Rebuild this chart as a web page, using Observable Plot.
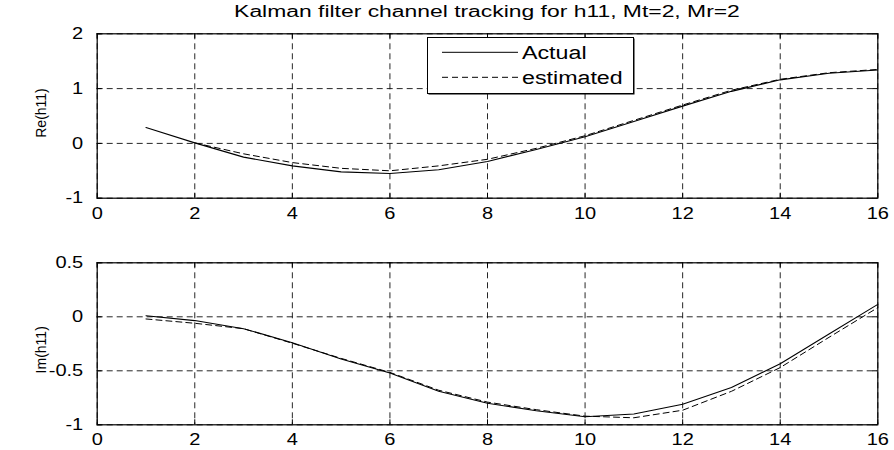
<!DOCTYPE html>
<html><head><meta charset="utf-8">
<script src="https://cdn.jsdelivr.net/npm/d3@7"></script>
<script src="https://cdn.jsdelivr.net/npm/@observablehq/plot@0.6"></script>
<style>
html,body{margin:0;padding:0;background:#fff;}
#wrap{position:relative;width:894px;height:450px;overflow:hidden;background:#fff;font-family:"Liberation Sans",Arial,sans-serif;}
#wrap > *{position:absolute;left:0;}
</style></head><body>
<div id="wrap">
  <div id="topPlot" style="top:0"></div>
  <div id="botPlot" style="top:220px"></div>
  <svg id="title" width="894" height="30" style="top:0"></svg>
  <svg id="legend" width="212" height="62" style="left:426px;top:36px"></svg>
</div>
<script>
const steps = [1,2,3,4,5,6,7,8,9,10,11,12,13,14,15,16];
const xTicks = [0,2,4,6,8,10,12,14,16];
const reTicks = [-1,0,1,2];
const imTicks = [-1,-0.5,0,0.5];
const reActual    = [0.29, 0.01, -0.25, -0.41, -0.52, -0.55, -0.48, -0.33, -0.11, 0.12, 0.40, 0.68, 0.95, 1.16, 1.28, 1.34];
const reEstimated = [null, 0.01, -0.19, -0.35, -0.455, -0.50, -0.41, -0.29, -0.09, 0.14, 0.42, 0.70, 0.97, 1.17, 1.29, 1.35];
const imActual    = [0.01, -0.035, -0.11, -0.24, -0.39, -0.52, -0.69, -0.80, -0.87, -0.925, -0.90, -0.81, -0.655, -0.435, -0.16, 0.115];
const imEstimated = [-0.02, -0.06, -0.11, -0.245, -0.385, -0.515, -0.68, -0.79, -0.86, -0.92, -0.935, -0.865, -0.69, -0.47, -0.19, 0.085];
const titleText = "Kalman filter channel tracking for h11, Mt=2, Mr=2";
const seriesNames = ["Actual", "estimated"];
const yLabels = ["Re(h11)", "Im(h11)"];

const W = 894, ML = 96.7, MR = 16.7;
const FONT = '"Liberation Sans", Arial, Helvetica, sans-serif';
const STRETCH = 1.25;

function panel({height, top, bottom, yDomain, yTicks, actual, estimated, yLabel, labelDy}) {
  const innerW = W - ML - MR;
  const innerH = height - top - bottom;
  const act = steps.map((x, i) => ({x, y: actual[i]}));
  const est = steps.map((x, i) => ({x, y: estimated[i]}));
  return Plot.plot({
    width: W, height,
    marginTop: top, marginBottom: bottom, marginLeft: ML, marginRight: MR,
    style: {fontFamily: FONT, fontSize: "16px", color: "#000", background: "#fff", overflow: "visible"},
    x: {domain: [0, 16]},
    y: {domain: yDomain},
    marks: [
      Plot.gridX(xTicks, {stroke: "#000", strokeOpacity: 0.85, strokeWidth: 1, strokeDasharray: "6,4"}),
      Plot.gridY(yTicks, {stroke: "#000", strokeOpacity: 0.85, strokeWidth: 1, strokeDasharray: "6,4"}),
      Plot.tickX(xTicks, {x: d => d, insetTop: innerH - 5, stroke: "#000"}),
      Plot.tickX(xTicks, {x: d => d, insetBottom: innerH - 5, stroke: "#000"}),
      Plot.tickY(yTicks, {y: d => d, insetRight: innerW - 5, stroke: "#000"}),
      Plot.tickY(yTicks, {y: d => d, insetLeft: innerW - 5, stroke: "#000"}),
      Plot.line(est, {x: "x", y: "y", stroke: "#000", strokeWidth: 1, strokeDasharray: "6,4"}),
      Plot.line(act, {x: "x", y: "y", stroke: "#000", strokeWidth: 1.1}),
      Plot.frame({stroke: "#000", strokeWidth: 1.2}),
      Plot.axisX(xTicks, {tickSize: 0, tickPadding: 9, fontSize: 16, label: null, tickFormat: d => String(d)}),
      Plot.axisY(yTicks, {tickSize: 0, tickPadding: 14, fontSize: 16, label: null, tickFormat: d => String(d)}),
      Plot.text([yLabel], {text: d => d, frameAnchor: "left", textAnchor: "middle", lineAnchor: "middle",
        dx: -56, dy: labelDy, rotate: -90, fontSize: 14, fill: "#000"})
    ]
  });
}

const topChart = panel({height: 220, top: 33.3, bottom: 22.3, yDomain: [-1, 2], yTicks: reTicks,
  actual: reActual, estimated: reEstimated, yLabel: yLabels[0], labelDy: -3});
const botChart = panel({height: 230, top: 42.3, bottom: 25.7, yDomain: [-1, 0.5], yTicks: imTicks,
  actual: imActual, estimated: imEstimated, yLabel: yLabels[1], labelDy: 6});
document.getElementById("topPlot").appendChild(topChart);
document.getElementById("botPlot").appendChild(botChart);

function stretchTexts(nodes, k) {
  nodes.forEach(t => {
    const L = t.getComputedTextLength();
    if (L > 0) {
      t.setAttribute("textLength", (L * k).toFixed(2));
      t.setAttribute("lengthAdjust", "spacingAndGlyphs");
    }
  });
}
[topChart, botChart].forEach(svg => {
  stretchTexts(svg.querySelectorAll('[aria-label="x-axis tick label"] text, [aria-label="y-axis tick label"] text'), STRETCH);
});

// title
const title = d3.select("#title");
title.append("text")
  .attr("x", 487).attr("y", 17)
  .attr("text-anchor", "middle")
  .attr("font-family", FONT).attr("font-size", 16).attr("fill", "#000")
  .text(titleText)
  .each(function() {
    const L = this.getComputedTextLength();
    this.setAttribute("textLength", (L * 1.43).toFixed(2));
    this.setAttribute("lengthAdjust", "spacingAndGlyphs");
  });

// legend
const lg = d3.select("#legend");
lg.append("rect").attr("x", 2.5).attr("y", 2.5).attr("width", 206).attr("height", 56).attr("fill", "#000");
lg.append("rect").attr("x", 1.5).attr("y", 1.5).attr("width", 206).attr("height", 56).attr("fill", "#fff").attr("stroke", "#000").attr("stroke-width", 1);
seriesNames.forEach((name, i) => {
  const y = 16.3 + i * 25;
  lg.append("line").attr("x1", 16).attr("x2", 92).attr("y1", y).attr("y2", y)
    .attr("stroke", "#000").attr("stroke-width", 1)
    .attr("stroke-dasharray", i === 1 ? "6,4" : null);
  lg.append("text").attr("x", 96).attr("y", y).attr("dy", "0.35em")
    .attr("font-family", FONT).attr("font-size", 18).attr("fill", "#000")
    .text(name)
    .each(function() {
      const L = this.getComputedTextLength();
      this.setAttribute("textLength", (L * 1.29).toFixed(2));
      this.setAttribute("lengthAdjust", "spacingAndGlyphs");
    });
});
</script>
</body></html>
